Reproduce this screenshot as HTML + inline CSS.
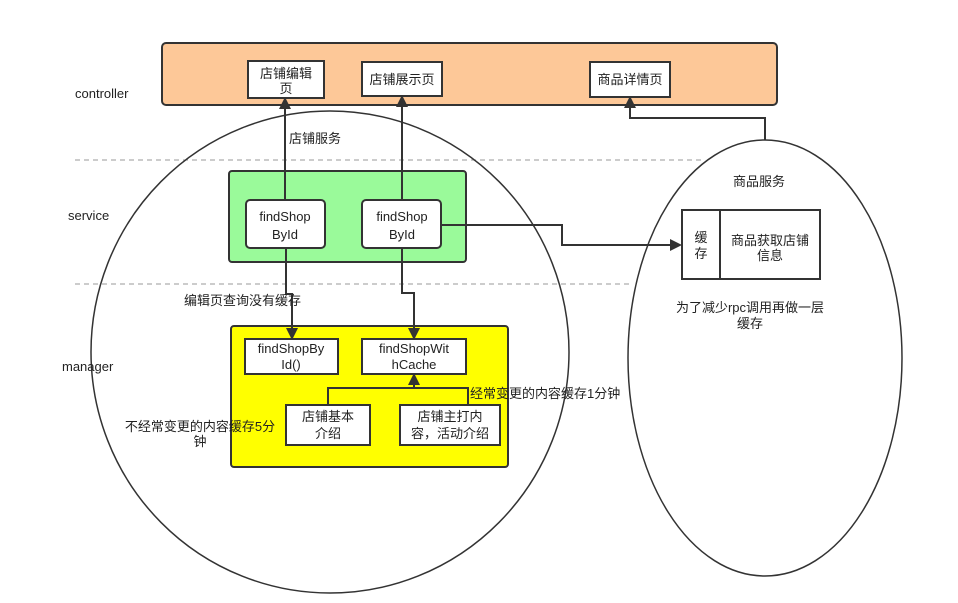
<!DOCTYPE html>
<html><head><meta charset="utf-8"><style>
body{margin:0;background:#fff;}
text{font-family:"Liberation Sans","Noto Sans CJK SC",sans-serif;font-size:13px;fill:#222;}
</style></head><body>
<svg width="958" height="598" xmlns="http://www.w3.org/2000/svg">
<defs><marker id="a" markerWidth="12" markerHeight="12" refX="10" refY="6" orient="auto" markerUnits="userSpaceOnUse"><path d="M0,0 L12,6 L0,12 z" fill="#333"/></marker></defs>
<line x1="75" y1="160" x2="703" y2="160" stroke="#999" stroke-dasharray="5,4"/>
<line x1="75" y1="284" x2="632" y2="284" stroke="#999" stroke-dasharray="5,4"/>
<ellipse cx="330" cy="352" rx="239" ry="241" fill="none" stroke="#333" stroke-width="1.5"/>
<ellipse cx="765" cy="358" rx="137" ry="218" fill="#fff" stroke="#333" stroke-width="1.5"/>
<rect x="162" y="43" width="615" height="62" rx="4" fill="#fdc898" stroke="#333" stroke-width="2"/>
<rect x="248" y="61" width="76" height="37" fill="#fff" stroke="#333" stroke-width="2"/>
<rect x="362" y="62" width="80" height="34" fill="#fff" stroke="#333" stroke-width="2"/>
<rect x="590" y="62" width="80" height="35" fill="#fff" stroke="#333" stroke-width="2"/>
<rect x="229" y="171" width="237" height="91" rx="3" fill="#9afa9a" stroke="#333" stroke-width="2"/>
<rect x="246" y="200" width="79" height="48" rx="4" fill="#fff" stroke="#333" stroke-width="2"/>
<rect x="362" y="200" width="79" height="48" rx="4" fill="#fff" stroke="#333" stroke-width="2"/>
<rect x="231" y="326" width="277" height="141" rx="3" fill="#ffff00" stroke="#333" stroke-width="2"/>
<rect x="245" y="339" width="93" height="35" fill="#fff" stroke="#333" stroke-width="2"/>
<rect x="362" y="339" width="104" height="35" fill="#fff" stroke="#333" stroke-width="2"/>
<rect x="286" y="405" width="84" height="40" fill="#fff" stroke="#333" stroke-width="2"/>
<rect x="400" y="405" width="100" height="40" fill="#fff" stroke="#333" stroke-width="2"/>
<rect x="682" y="210" width="138" height="69" fill="#fff" stroke="#333" stroke-width="2"/>
<line x1="720" y1="210" x2="720" y2="279" stroke="#333" stroke-width="2"/>
<g stroke="#333" stroke-width="2" fill="none">
<line x1="285" y1="200" x2="285" y2="99" marker-end="url(#a)"/>
<line x1="402" y1="200" x2="402" y2="97" marker-end="url(#a)"/>
<polyline points="286,248 286,294 292,294 292,338" marker-end="url(#a)"/>
<polyline points="402,248 402,293 414,293 414,338" marker-end="url(#a)"/>
<polyline points="441,225 562,225 562,245 680,245" marker-end="url(#a)"/>
<polyline points="765,140 765,118 630,118 630,98" marker-end="url(#a)"/>
<polyline points="328,405 328,388 468,388 468,405"/>
<line x1="414" y1="388" x2="414" y2="375" marker-end="url(#a)"/>
</g>
<text x="75" y="98">controller</text>
<text x="68" y="220">service</text>
<text x="62" y="371">manager</text>
<g text-anchor="middle">
<text x="286" y="78">店铺编辑</text><text x="286" y="93">页</text>
<text x="402" y="84">店铺展示页</text>
<text x="630" y="84">商品详情页</text>
<text x="285" y="221">findShop</text><text x="285" y="239">ById</text>
<text x="402" y="221">findShop</text><text x="402" y="239">ById</text>
<text x="291" y="353">findShopBy</text><text x="291" y="369">Id()</text>
<text x="414" y="353">findShopWit</text><text x="414" y="369">hCache</text>
<text x="328" y="421">店铺基本</text><text x="328" y="438">介绍</text>
<text x="450" y="421">店铺主打内</text><text x="450" y="438">容，活动介绍</text>
<text x="701" y="242">缓</text><text x="701" y="258">存</text>
<text x="770" y="245">商品获取店铺</text><text x="770" y="260">信息</text>
<text x="759" y="186">商品服务</text>
<text x="750" y="312">为了减少rpc调用再做一层</text><text x="750" y="328">缓存</text>
<text x="200" y="431">不经常变更的内容缓存5分</text><text x="200" y="446">钟</text>
</g>
<text x="289" y="143">店铺服务</text>
<text x="184" y="305">编辑页查询没有缓存</text>
<text x="470" y="398">经常变更的内容缓存1分钟</text>
</svg>
</body></html>
